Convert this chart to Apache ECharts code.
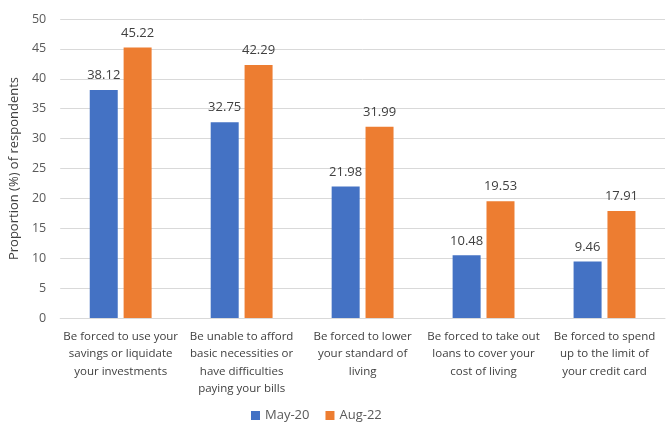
<!DOCTYPE html>
<html><head><meta charset="utf-8">
<script src="https://cdn.jsdelivr.net/npm/echarts@6/dist/echarts.min.js"></script>
<style>html,body{margin:0;padding:0;background:#fff}#c{width:670px;height:423px}</style>
</head><body><div id="c"></div>
<script>
const categories = [
  "Be forced to use your\nsavings or liquidate\nyour investments",
  "Be unable to afford\nbasic necessities or\nhave difficulties\npaying your bills",
  "Be forced to lower\nyour standard of\nliving",
  "Be forced to take out\nloans to cover your\ncost of living",
  "Be forced to spend\nup to the limit of\nyour credit card"
];
const may20 = [38.12, 32.75, 21.98, 10.48, 9.46];
const aug22 = [45.22, 42.29, 31.99, 19.53, 17.91];
const seriesNames = ["May-20", "Aug-22"];
const yTitle = "Proportion (%) of respondents";

const font = "Open Sans";
const chart = echarts.init(document.getElementById('c'), null, {renderer:'canvas'});
const lbl = {show:true, position:'top', distance:8, color:'#404040', fontFamily:font, fontSize:13, formatter:p=>p.value.toFixed(2)};
chart.setOption({
  animation:false,
  textStyle:{fontFamily:font},
  grid:{left:58, right:5, top:19, bottom:105},
  legend:{top:404, left:246, itemWidth:9, itemHeight:9, itemGap:16, icon:'rect',
    textStyle:{color:'#595959', fontSize:13, fontFamily:font}, data:seriesNames},
  xAxis:{type:'category', data:categories,
    axisLine:{lineStyle:{color:'#d9d9d9'}}, axisTick:{show:false},
    axisLabel:{interval:0, color:'#404040', fontSize:11.5, lineHeight:17.3, margin:10, fontFamily:font}},
  yAxis:{type:'value', min:0, max:50, interval:5,
    name:yTitle, nameLocation:'middle', nameGap:33, nameRotate:90,
    nameTextStyle:{color:'#404040', fontSize:13, fontFamily:font},
    axisLine:{show:false}, axisTick:{show:false},
    axisLabel:{color:'#595959', fontSize:12.5, margin:14, fontFamily:font},
    splitLine:{lineStyle:{color:'#d9d9d9'}}},
  series:[
    {name:seriesNames[0], type:'bar', data:may20, barWidth:28, barGap:'21%', itemStyle:{color:'#4472C4'}, label:lbl},
    {name:seriesNames[1], type:'bar', data:aug22, barWidth:28, barGap:'21%', itemStyle:{color:'#ED7D31'}, label:lbl}
  ]
});
</script></body></html>
